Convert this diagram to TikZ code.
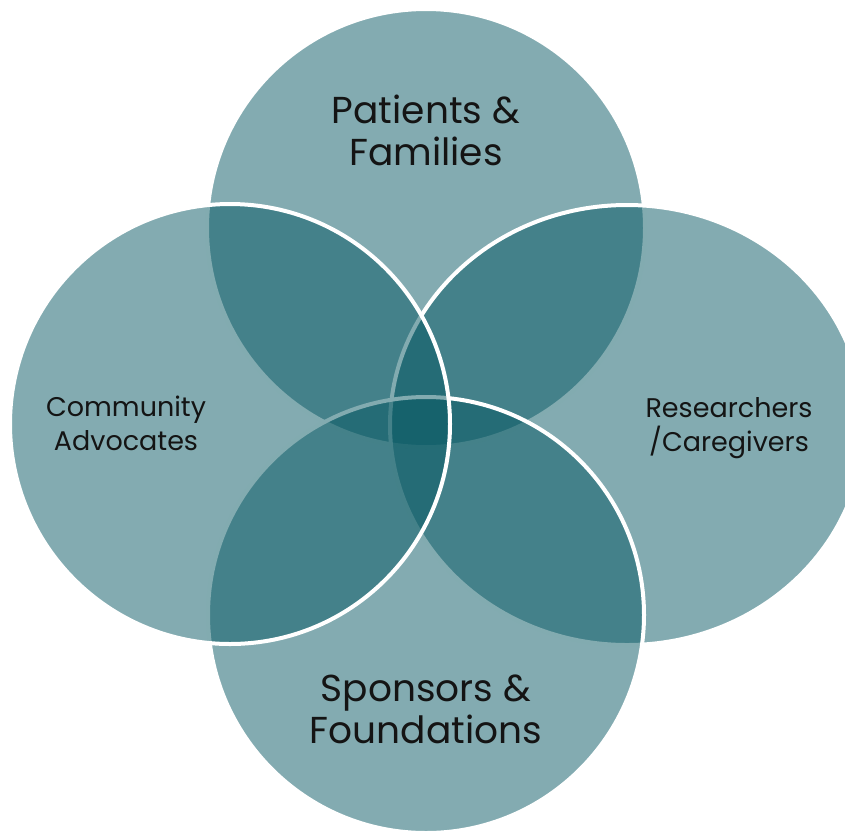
\documentclass[tikz,border=0pt]{standalone}
\usepackage{fontspec}
\setmainfont{Poppins}
\definecolor{tealbase}{RGB}{7,88,99}
\definecolor{txt}{RGB}{20,20,20}
\tikzset{
  venn/.style={fill=tealbase, fill opacity=0.5, draw=white, line width=4pt},
  biglabel/.style={text=txt, align=center, font=\fontsize{37.5}{42}\selectfont, inner sep=0pt},
  smalllabel/.style={text=txt, align=center, font=\fontsize{27}{34}\selectfont, inner sep=0pt}
}
\begin{document}
\begin{tikzpicture}[x=1pt,y=-1pt]
\useasboundingbox (0,0) rectangle (845,836);
\clip (0,0) rectangle (845,836);
% circles: top, right, bottom, left
\path[venn] (426,228) circle[radius=219];
\path[venn] (627,425) ellipse[x radius=237, y radius=220];
\path[venn] (426,615) circle[radius=218];
\path[venn] (230,424) circle[radius=220];
% labels (anchor = baseline of last line)
\node[biglabel, anchor=base] (pf) at (426,165) {Patients \&\\Families};
\node[biglabel, anchor=base] (sf) at (426,743) {Sponsors \&\\Foundations};
\node[smalllabel, anchor=base] (ca) at (126,450) {Community\\Advocates};
\node[smalllabel, anchor=base] (rc) at (729,451) {Researchers\\/Caregivers};
\end{tikzpicture}
\end{document}
